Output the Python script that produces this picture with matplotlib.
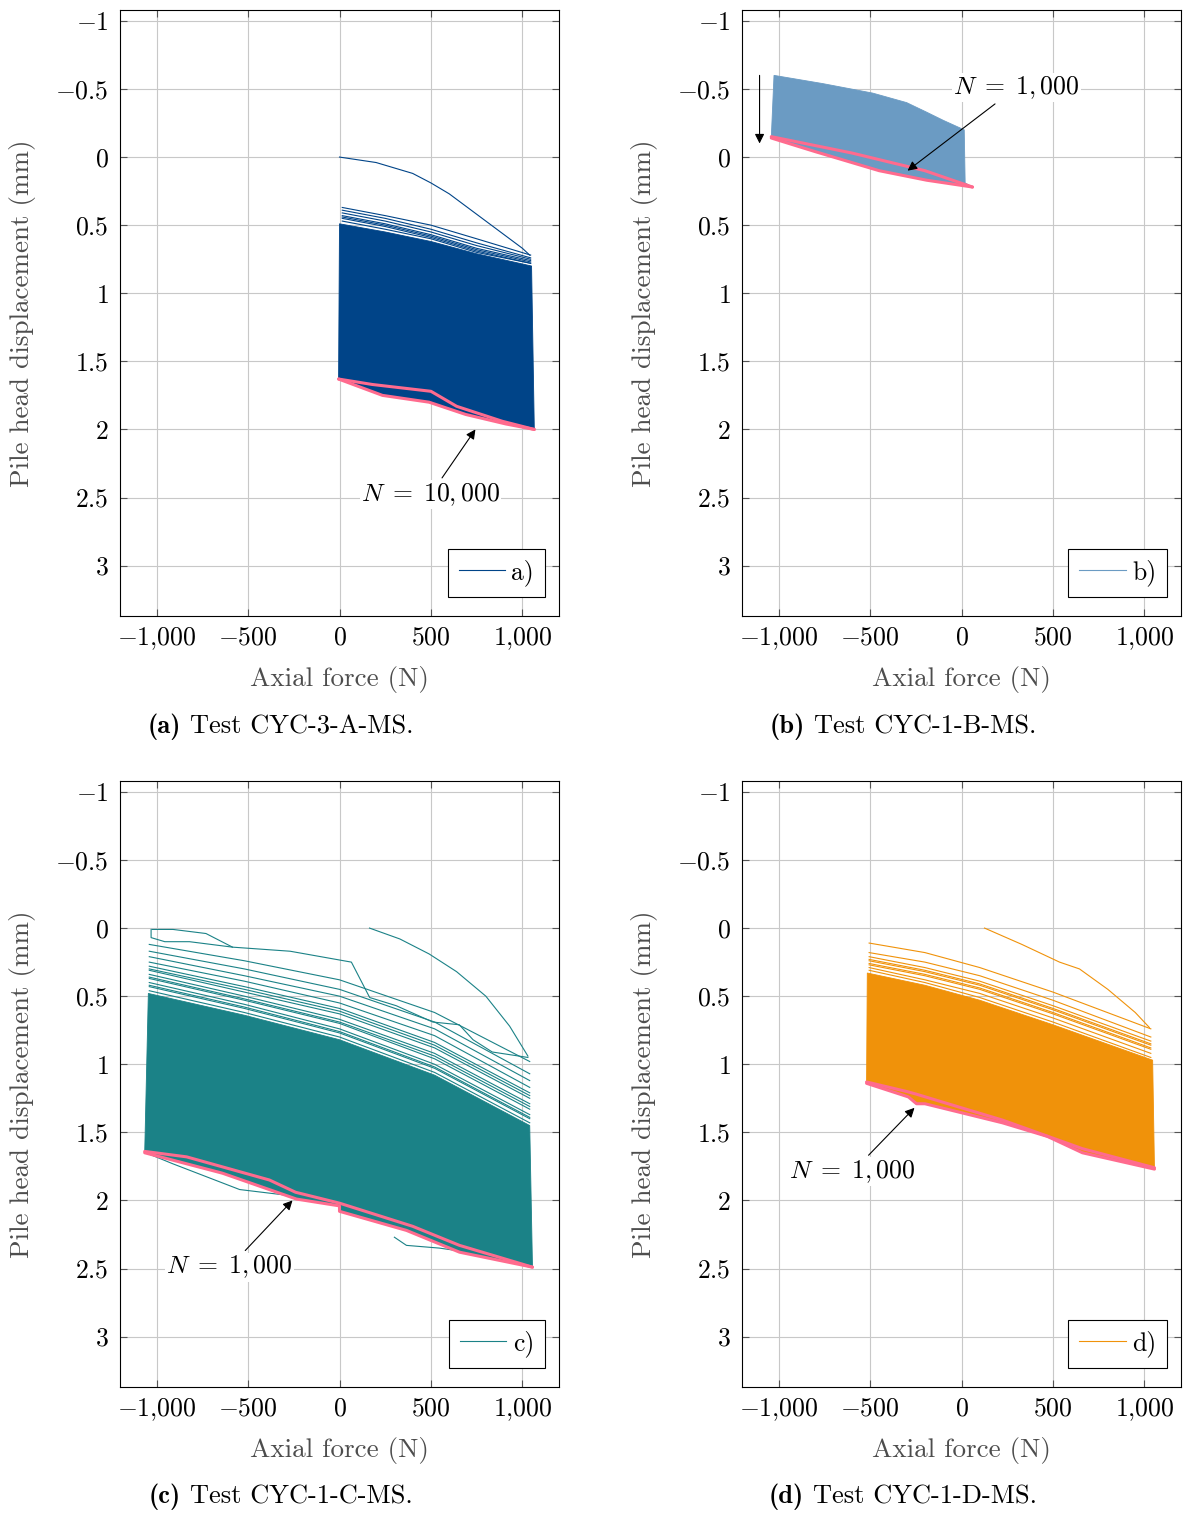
import matplotlib
matplotlib.use('Agg')
import matplotlib.pyplot as plt
import numpy as np
from matplotlib.ticker import FuncFormatter, MultipleLocator
from matplotlib.lines import Line2D

plt.rcParams['font.family'] = ['cmr10', 'DejaVu Serif']
plt.rcParams['mathtext.fontset'] = 'cm'
plt.rcParams['axes.unicode_minus'] = False
plt.rcParams['axes.formatter.use_mathtext'] = True

PINK = '#ff6b8e'

# ---------------- panel a: CYC-3-A-MS ----------------
a_virgin_f = [0, 200, 400, 500, 600, 700, 800, 900, 1000, 1040]
a_virgin_d = [0, 0.04, 0.12, 0.19, 0.27, 0.37, 0.47, 0.57, 0.67, 0.72]
a_cyc_f = [15, 250, 500, 750, 1045]
a_cycles = [
    [0.37, 0.43, 0.50, 0.60, 0.72],
    [0.39, 0.45, 0.53, 0.63, 0.74],
    [0.41, 0.47, 0.55, 0.65, 0.75],
    [0.43, 0.49, 0.57, 0.67, 0.76],
    [0.44, 0.50, 0.58, 0.68, 0.77],
    [0.45, 0.51, 0.59, 0.69, 0.78],
    [0.47, 0.53, 0.60, 0.70, 0.78],
]
a_top_f = [0, 250, 500, 750, 1050]
a_top_d = [0.49, 0.55, 0.62, 0.71, 0.80]
a_fin_up_f = [-5, 180, 500, 640, 890, 1065]
a_fin_up_d = [1.63, 1.67, 1.72, 1.83, 1.94, 2.00]
a_fin_lo_f = [-5, 235, 490, 690, 910, 1065]
a_fin_lo_d = [1.63, 1.75, 1.80, 1.89, 1.96, 2.00]

# ---------------- panel b: CYC-1-B-MS ----------------
b_top_f = [-1025, -760, -486, -300, -191, -100, 15, 20]
b_top_d = [-0.60, -0.54, -0.47, -0.40, -0.33, -0.27, -0.20, 0.19]
b_fin_up_f = [-1040, -600, -200, 60]
b_fin_up_d = [-0.15, -0.03, 0.10, 0.22]
b_fin_lo_f = [-1040, -800, -450, -190, 60]
b_fin_lo_d = [-0.14, -0.04, 0.10, 0.17, 0.22]

# ---------------- panel c: CYC-1-C-MS ----------------
c_virgin_f = [164, 330, 490, 640, 800, 930, 1030]
c_virgin_d = [0, 0.08, 0.19, 0.32, 0.50, 0.72, 0.94]
c_loop2_f = [-1025, -910, -730, -585, -270, 65, 165, 310, 510, 655, 730, 835, 1030]
c_loop2_d = [0.01, 0.01, 0.04, 0.14, 0.17, 0.25, 0.51, 0.57, 0.69, 0.71, 0.82, 0.91, 0.95]
c_loop3_f = [-1030, -1030, -955, -820, -585]
c_loop3_d = [0.01, 0.07, 0.10, 0.10, 0.14]
c_cyc_f = [-1040, -520, 0, 520, 1040]
c_cycles = [
    [0.12, 0.24, 0.38, 0.62, 0.98],
    [0.17, 0.30, 0.45, 0.69, 1.07],
    [0.21, 0.35, 0.50, 0.74, 1.12],
    [0.25, 0.39, 0.55, 0.79, 1.17],
    [0.28, 0.43, 0.59, 0.84, 1.21],
    [0.30, 0.45, 0.61, 0.86, 1.23],
    [0.31, 0.47, 0.63, 0.88, 1.25],
    [0.34, 0.50, 0.67, 0.92, 1.29],
    [0.36, 0.52, 0.69, 0.94, 1.31],
    [0.37, 0.53, 0.70, 0.96, 1.33],
    [0.40, 0.56, 0.74, 1.00, 1.37],
    [0.42, 0.58, 0.76, 1.02, 1.39],
    [0.43, 0.59, 0.77, 1.03, 1.40],
    [0.46, 0.62, 0.80, 1.06, 1.43],
]
c_top_f = [-1045, -520, 0, 520, 1040]
c_top_d = [0.48, 0.64, 0.82, 1.08, 1.45]
c_fin_up_f = [-1065, -836, -383, -240, 0, 400, 656, 1055]
c_fin_up_d = [1.64, 1.68, 1.85, 1.94, 2.02, 2.19, 2.33, 2.49]
c_fin_lo_f = [-1065, -640, -235, 0, 0, 366, 656, 1055]
c_fin_lo_d = [1.65, 1.80, 1.99, 2.04, 2.08, 2.22, 2.38, 2.49]
c_extra1_f = [-1040, -913, -546, -300]
c_extra1_d = [1.66, 1.73, 1.92, 1.96]
c_extra2_f = [300, 366, 546, 650]
c_extra2_d = [2.27, 2.33, 2.35, 2.37]

# ---------------- panel d: CYC-1-D-MS ----------------
d_virgin_f = [126, 330, 536, 645, 800, 950, 1027]
d_virgin_d = [0, 0.12, 0.25, 0.30, 0.45, 0.62, 0.73]
d_cyc_f = [-505, -200, 100, 500, 1035]
d_cycles = [
    [0.11, 0.18, 0.29, 0.47, 0.74],
    [0.18, 0.25, 0.35, 0.53, 0.80],
    [0.21, 0.29, 0.39, 0.57, 0.83],
    [0.23, 0.31, 0.41, 0.59, 0.85],
    [0.24, 0.32, 0.42, 0.60, 0.86],
    [0.26, 0.34, 0.44, 0.62, 0.88],
    [0.27, 0.35, 0.45, 0.63, 0.89],
    [0.29, 0.38, 0.48, 0.66, 0.92],
    [0.31, 0.40, 0.51, 0.69, 0.95],
]
d_top_f = [-515, -200, 100, 500, 1045]
d_top_d = [0.33, 0.42, 0.53, 0.71, 0.97]
d_fin_up_f = [-519, -300, -246, 0, 224, 661, 1055]
d_fin_up_d = [1.13, 1.20, 1.22, 1.32, 1.41, 1.62, 1.76]
d_fin_lo_f = [-519, -290, -246, -200, 224, 470, 661, 1055]
d_fin_lo_d = [1.14, 1.24, 1.29, 1.29, 1.43, 1.53, 1.65, 1.77]

captions = ['(a)', '(b)', '(c)', '(d)']
caption_text = ['Test CYC-3-A-MS.', 'Test CYC-1-B-MS.', 'Test CYC-1-C-MS.', 'Test CYC-1-D-MS.']

FS = 18.5


def tick_fmt(v, pos):
    s = f'{abs(v):,.0f}'.replace(',', '{,}')
    return f'${"-" if v < 0 else ""}{s}$'


def ytick_fmt(v, pos):
    s = f'{abs(v):g}'
    return f'${"-" if v < 0 else ""}{s}$'


def setup(ax):
    ax.set_xlim(-1200, 1200)
    ax.set_ylim(3.37, -1.08)
    ax.xaxis.set_major_locator(MultipleLocator(500))
    ax.yaxis.set_major_locator(MultipleLocator(0.5))
    ax.xaxis.set_major_formatter(FuncFormatter(tick_fmt))
    ax.yaxis.set_major_formatter(FuncFormatter(ytick_fmt))
    ax.grid(True, color='#c8c8c8', lw=0.8)
    ax.set_axisbelow(True)
    ax.tick_params(direction='in', length=5, width=0.8, color='#555555',
                   top=True, right=True, labelsize=FS)
    ax.tick_params(axis='y', pad=8)
    ax.tick_params(axis='x', pad=7)
    for s in ax.spines.values():
        s.set_linewidth(0.8)
    ax.text(0.5, -0.1040, 'Axial force (N)', transform=ax.transAxes,
            ha='center', va='center', fontsize=19.5, color='#4d4d4d')
    ax.text(-0.223, 0.5, 'Pile head displacement (mm)', transform=ax.transAxes,
            ha='center', va='center', rotation=90, fontsize=19.5, color='#4d4d4d')


def band(ax, color, top_f, top_d, lo_f, lo_d, up_f, up_d):
    xs = np.concatenate([top_f, lo_f[::-1]])
    ys = np.concatenate([top_d, lo_d[::-1]])
    ax.fill(xs, ys, color=color, lw=0.6, ec=color, zorder=2)
    ax.plot(up_f, up_d, color=PINK, lw=2.2, zorder=4, solid_capstyle='round')
    ax.plot(lo_f, lo_d, color=PINK, lw=2.2, zorder=4, solid_capstyle='round')


def legend(ax, color, label):
    h = Line2D([], [], color=color, lw=0.8)
    leg = ax.legend([h], [label], loc='lower right', fontsize=FS, fancybox=False,
                    edgecolor='black', framealpha=1, handlelength=1.8,
                    bbox_to_anchor=(1 - 14 / 439, 19 / 606), borderaxespad=0,
                    borderpad=0.42, handletextpad=0.25)
    leg.get_frame().set_linewidth(0.8)


def note(ax, text, xy, xytext):
    ax.annotate(text, xy=xy, xytext=xytext, ha='center', va='center', fontsize=FS,
                bbox=dict(facecolor='white', edgecolor='none', pad=1),
                arrowprops=dict(arrowstyle='-|>', color='black', lw=0.8,
                                mutation_scale=14, shrinkA=2, shrinkB=0),
                zorder=6)


fig = plt.figure(figsize=(11.84, 15.16), dpi=100)
W = 439 / 1184
H = 606 / 1516
ax_a = fig.add_axes([120 / 1184, 1 - 616 / 1516, W, H])
ax_b = fig.add_axes([742 / 1184, 1 - 616 / 1516, W, H])
ax_c = fig.add_axes([120 / 1184, 1 - 1387 / 1516, W, H])
ax_d = fig.add_axes([742 / 1184, 1 - 1387 / 1516, W, H])

# a
ca = '#004488'
setup(ax_a)
band(ax_a, ca, a_top_f, a_top_d, a_fin_lo_f, a_fin_lo_d, a_fin_up_f, a_fin_up_d)
ax_a.plot(a_virgin_f, a_virgin_d, color=ca, lw=0.8, zorder=3)
for cyc in a_cycles:
    ax_a.plot(a_cyc_f, cyc, color=ca, lw=0.8, zorder=3)
legend(ax_a, ca, 'a)')
note(ax_a, r'$N \;=\; 10,000$', (743, 2.0), (497, 2.48))

# b
cb = '#6b9bc3'
setup(ax_b)
band(ax_b, cb, b_top_f, b_top_d, b_fin_lo_f, b_fin_lo_d, b_fin_up_f, b_fin_up_d)
legend(ax_b, cb, 'b)')
note(ax_b, r'$N \;=\; 1,000$', (-295, 0.10), (300, -0.51))
ax_b.annotate('', xy=(-1104, -0.10), xytext=(-1104, -0.60),
              arrowprops=dict(arrowstyle='-|>', color='black', lw=0.8,
                              mutation_scale=14, shrinkA=0, shrinkB=0))

# c
cc = '#1b8287'
setup(ax_c)
band(ax_c, cc, c_top_f, c_top_d, c_fin_lo_f, c_fin_lo_d, c_fin_up_f, c_fin_up_d)
ax_c.plot(c_virgin_f, c_virgin_d, color=cc, lw=0.8, zorder=3)
ax_c.plot(c_loop2_f, c_loop2_d, color=cc, lw=0.8, zorder=3)
ax_c.plot(c_loop3_f, c_loop3_d, color=cc, lw=0.8, zorder=3)
for cyc in c_cycles:
    ax_c.plot(c_cyc_f, cyc, color=cc, lw=0.8, zorder=3)
ax_c.plot(c_extra1_f, c_extra1_d, color=cc, lw=0.8, zorder=3)
ax_c.plot(c_extra2_f, c_extra2_d, color=cc, lw=0.8, zorder=3)
legend(ax_c, cc, 'c)')
note(ax_c, r'$N \;=\; 1,000$', (-257, 2.0), (-601, 2.49))

# d
cd = '#f0920a'
setup(ax_d)
band(ax_d, cd, d_top_f, d_top_d, d_fin_lo_f, d_fin_lo_d, d_fin_up_f, d_fin_up_d)
ax_d.plot(d_virgin_f, d_virgin_d, color=cd, lw=0.8, zorder=3)
for cyc in d_cycles:
    ax_d.plot(d_cyc_f, cyc, color=cd, lw=0.8, zorder=3)
legend(ax_d, cd, 'd)')
note(ax_d, r'$N \;=\; 1,000$', (-257, 1.32), (-596, 1.79))

# captions: bold "(x)" + regular text, centred as a whole
CFS = 19
renderer = fig.canvas.get_renderer()
cap_pos = [(281, 727), (903, 727), (281, 1497), (903, 1497)]
for (cx, cy), tag, txt in zip(cap_pos, captions, caption_text):
    y = 1 - cy / 1516
    t1 = fig.text(0, y, tag, fontfamily='cmb10', fontsize=CFS, va='center', ha='left')
    t2 = fig.text(0, y, txt, fontsize=CFS, va='center', ha='left')
    w1 = t1.get_window_extent(renderer).width
    w2 = t2.get_window_extent(renderer).width
    gap = 9
    x0 = cx - (w1 + gap + w2) / 2
    t1.set_x(x0 / 1184)
    t2.set_x((x0 + w1 + gap) / 1184)

fig.savefig('out.png', dpi=100)
